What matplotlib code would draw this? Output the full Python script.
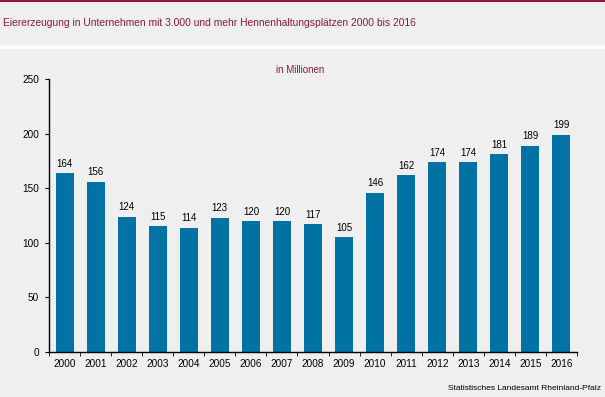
import matplotlib.pyplot as plt
import matplotlib.patches as patches
import numpy as np

plt.rcParams['font.family'] = ['Liberation Sans', 'DejaVu Sans']

jahre = ['2000', '2001', '2002', '2003', '2004', '2005', '2006', '2007', '2008',
         '2009', '2010', '2011', '2012', '2013', '2014', '2015', '2016']
eier = [164, 156, 124, 115, 114, 123, 120, 120, 117, 105, 146, 162, 174, 174, 181, 189, 199]

hintergrund = '#EEEFEE'
rot = '#8B1A3A'
blau = '#0072A3'

W, H = 605, 397
fig = plt.figure(figsize=(W / 100, H / 100), dpi=100)
fig.patch.set_facecolor(hintergrund)

# Kopfbereich: roter Streifen oben, weisse Trennlinie unter dem Titel
fig.add_artist(patches.Rectangle((0, 1 - 2 / H), 1, 2 / H, transform=fig.transFigure,
                                 facecolor=rot, edgecolor='none'))
fig.add_artist(patches.Rectangle((0, 1 - 49 / H), 1, 4 / H, transform=fig.transFigure,
                                 facecolor='white', edgecolor='none'))
fig.text(3 / W, 1 - 23 / H, 'Eiererzeugung in Unternehmen mit 3.000 und mehr Hennenhaltungsplätzen 2000 bis 2016',
         color=rot, fontsize=7.4, va='center', ha='left')

ax = fig.add_axes([49 / W, 1 - 352 / H, 528 / W, 273 / H])
ax.set_facecolor(hintergrund)

x = np.arange(len(jahre))
ax.bar(x, eier, width=0.58, color=blau)
for xi, v in zip(x, eier):
    ax.text(xi, v + 4, str(v), ha='center', va='bottom', fontsize=7)

ax.set_xlim(-0.5, len(jahre) - 0.5)
ax.set_ylim(0, 250)
ax.set_yticks(range(0, 251, 50))
ax.set_xticks(x)
ax.set_xticklabels(jahre, fontsize=7.2)
ax.set_xticks(np.arange(-0.5, len(jahre)), minor=True)
ax.tick_params(axis='x', which='major', length=0, pad=5)
ax.tick_params(axis='x', which='minor', length=3, direction='out')
ax.tick_params(axis='y', labelsize=7.2, length=3, direction='out', pad=4)

for s in ['top', 'right']:
    ax.spines[s].set_visible(False)
ax.spines['left'].set_linewidth(1)
ax.spines['bottom'].set_linewidth(1)

fig.text(300 / W, 1 - 70 / H, 'in Millionen', color=rot, fontsize=7, ha='center', va='center')
fig.text(601 / W, 1 - 388 / H, 'Statistisches Landesamt Rheinland-Pfalz',
         fontsize=6, ha='right', va='center')

fig.savefig('out.png', dpi=100, facecolor=fig.get_facecolor())
